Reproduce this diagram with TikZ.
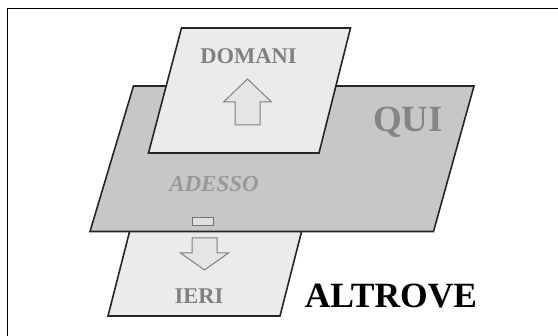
\documentclass[tikz,border=0pt]{standalone}
\usepackage{fontspec}
\setmainfont{Liberation Serif}
\begin{document}
\begin{tikzpicture}[x=1pt,y=-1pt,
  plane/.style={draw=black!85,line width=1.6pt,line join=miter},
  lightplane/.style={plane,fill=black!8},
  darkplane/.style={plane,fill=black!22},
  hollowarrow/.style={draw=black!50,line width=1pt,fill=black!10,line join=miter},
  graytext/.style={text=black!50,font=\bfseries,inner sep=0pt}]
\useasboundingbox (0,0) rectangle (558,336);
\fill[white] (0,0) rectangle (558,336);
% outer frame, open to the right and bottom
\draw[line width=1.6pt] (7.5,340) -- (7.5,8.5) -- (562,8.5);

% lower plane (yesterday), partly under the middle plane
\draw[lightplane] (108,316) -- (280,316) -- (304,222) -- (132,222) -- cycle;
% middle plane (here / now)
\draw[darkplane] (133.5,86) -- (474,86) -- (433.5,231.5) -- (90,231.5) -- cycle;
% upper plane (tomorrow)
\draw[lightplane] (181.5,28) -- (350.5,28) -- (319,153) -- (148.5,153) -- cycle;

% upward hollow arrow
\draw[hollowarrow] (247.5,79) -- (271.5,102) -- (260,102) -- (260,125)
  -- (235,125) -- (235,102) -- (223.5,102) -- cycle;
% downward hollow arrow
\draw[hollowarrow] (204.5,270) -- (228.5,253) -- (217,253) -- (217,238)
  -- (192,238) -- (192,253) -- (180.5,253) -- cycle;
% small slot on the middle plane
\draw[draw=black!55,fill=black!12,line width=0.9pt] (192.5,217.5) rectangle (213,225);

% labels
\node[graytext,font=\bfseries\fontsize{22.5}{22.5}\selectfont] (domani) at (248.5,56) {DOMANI};
\node[graytext,text=black!48,font=\bfseries\fontsize{37}{37}\selectfont] (qui) at (408,122) {QUI};
\node[graytext,text=black!40,font=\bfseries\itshape\fontsize{23}{23}\selectfont] (adesso) at (214,184) {ADESSO};
\node[graytext,font=\bfseries\fontsize{22.5}{22.5}\selectfont] (ieri) at (199,296) {IERI};
\node[inner sep=0pt,font=\bfseries\fontsize{35.5}{35.5}\selectfont] (altrove) at (391,296) {ALTROVE};
\end{tikzpicture}
\end{document}
